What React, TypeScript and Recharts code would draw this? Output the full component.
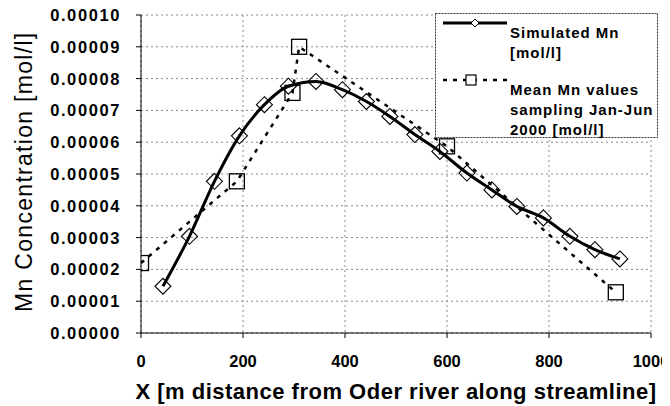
import React from 'react';
import { LineChart, Line, XAxis, YAxis, CartesianGrid, Label } from 'recharts';

// Simulated Mn concentration along streamline
const simX = [43, 95, 144, 193, 242, 289, 343, 395, 442, 488, 537, 586, 639, 688, 737, 789, 841, 890, 939];
const simY = [
  0.0000147, 0.0000304, 0.0000477, 0.000062, 0.0000718, 0.0000776, 0.0000791, 0.0000765, 0.0000728,
  0.0000681, 0.0000624, 0.0000571, 0.0000503, 0.000045, 0.0000398, 0.0000362, 0.0000304, 0.0000262, 0.0000233,
];

// Mean Mn values sampling Jan-Jun 2000
const meanX = [0, 188, 297, 310, 600, 931];
const meanY = [0.000022, 0.0000477, 0.0000755, 0.00009, 0.0000587, 0.0000128];

const xTicks = [0, 200, 400, 600, 800, 1000];
const yTicks = [0, 0.00001, 0.00002, 0.00003, 0.00004, 0.00005, 0.00006, 0.00007, 0.00008, 0.00009, 0.0001];

const xTitle = 'X [m distance from Oder river along streamline]';
const yTitle = 'Mn Concentration [mol/l]';
const legendSim = ['Simulated Mn', '[mol/l]'];
const legendMean = ['Mean Mn values', 'sampling Jan-Jun', '2000 [mol/l]'];

const simulated = simX.map((x, i) => ({ x, y: simY[i] }));
const measured = meanX.map((x, i) => ({ x, y: meanY[i] }));

const FONT = '"Liberation Sans", Arial, Helvetica, sans-serif';

const YTick = (props: any) => {
  const { x, y, payload } = props;
  return (
    <text x={x} y={y} dy={6} textAnchor="end" fontFamily={FONT} fontSize={16.5} fontWeight="bold" fill="#000" letterSpacing={1.6}>
      {Number(payload.value).toFixed(5)}
    </text>
  );
};

const XTick = (props: any) => {
  const { x, y, payload } = props;
  return (
    <text x={x} y={y} dy={12} textAnchor="middle" fontFamily={FONT} fontSize={16.5} fontWeight="bold" fill="#000">
      {String(payload.value)}
    </text>
  );
};

const Diamond = (props: any) => {
  const { cx, cy, index } = props;
  if (cx == null || cy == null) return <g key={`d${index}`} />;
  const r = 8;
  return (
    <path
      key={`d${index}`}
      d={`M${cx},${cy - r}L${cx + r},${cy}L${cx},${cy + r}L${cx - r},${cy}Z`}
      fill="none"
      stroke="#000"
      strokeWidth={1.1}
    />
  );
};

const Square = (props: any) => {
  const { cx, cy, index } = props;
  if (cx == null || cy == null) return <g key={`s${index}`} />;
  const r = 7.5;
  return <rect key={`s${index}`} x={cx - r} y={cy - r} width={2 * r} height={2 * r} fill="none" stroke="#000" strokeWidth={1.3} />;
};

const XTitle = () => (
  <text x={388} y={398.5} textAnchor="middle" fontFamily={FONT} fontSize={22} fontWeight="bold" fill="#000" letterSpacing={0.5}>
    {xTitle}
  </text>
);

const YTitle = () => (
  <text
    x={24}
    y={171.7}
    transform="rotate(-90 24 171.7)"
    textAnchor="middle"
    fontFamily={FONT}
    fontSize={23}
    fill="#000"
    letterSpacing={1.3}
  >
    {yTitle}
  </text>
);

const LegendBox = () => (
  <svg width={224} height={126} style={{ position: 'absolute', left: 427, top: 13 }}>
    <rect x={0.5} y={0.5} width={222} height={124} fill="#fff" stroke="#333" strokeWidth={1} strokeDasharray="2 1" />
    <line x1={8} y1={10} x2={72} y2={10} stroke="#000" strokeWidth={3} />
    <path d="M40,6L44,10L40,14L36,10Z" fill="#fff" stroke="#000" strokeWidth={1} />
    <line x1={8} y1={67} x2={72} y2={67} stroke="#000" strokeWidth={2.5} strokeDasharray="4 6" />
    <rect x={31} y={62} width={10} height={10} fill="#fff" stroke="#000" strokeWidth={1.2} />
    {legendSim.map((t, i) => (
      <text key={`ls${i}`} x={75} y={25 + i * 20} fontFamily={FONT} fontSize={15} fontWeight="bold" fill="#000" letterSpacing={1}>
        {t}
      </text>
    ))}
    {legendMean.map((t, i) => (
      <text key={`lm${i}`} x={75} y={82 + i * 20} fontFamily={FONT} fontSize={15} fontWeight="bold" fill="#000" letterSpacing={1}>
        {t}
      </text>
    ))}
  </svg>
);

export default function App() {
  return (
    <div style={{ position: 'relative', width: 662, height: 406, marginTop: -8 }}>
      <LineChart width={662} height={406} margin={{ top: 15, right: 19, left: 0, bottom: 0 }}>
        <CartesianGrid stroke="#8a8a8a" strokeDasharray="2 3" />
        <XAxis
          type="number"
          dataKey="x"
          domain={[0, 1000]}
          ticks={xTicks}
          interval={0}
          height={73}
          tickSize={5}
          tickMargin={17}
          tick={<XTick />}
          axisLine={{ stroke: '#000', strokeWidth: 1 }}
          tickLine={{ stroke: '#000' }}
          allowDataOverflow
        >
          <Label content={<XTitle />} />
        </XAxis>
        <YAxis
          type="number"
          domain={[0, 0.0001]}
          ticks={yTicks}
          interval={0}
          width={133}
          tickSize={5}
          tickMargin={15}
          tick={<YTick />}
          axisLine={{ stroke: '#000', strokeWidth: 1 }}
          tickLine={{ stroke: '#000' }}
          allowDataOverflow
        >
          <Label content={<YTitle />} />
        </YAxis>
        <Line
          data={measured}
          dataKey="y"
          type="linear"
          stroke="#000"
          strokeWidth={2.5}
          strokeDasharray="4 6"
          dot={<Square />}
          activeDot={false}
          isAnimationActive={false}
        />
        <Line
          data={simulated}
          dataKey="y"
          type="monotone"
          stroke="#000"
          strokeWidth={3}
          dot={<Diamond />}
          activeDot={false}
          isAnimationActive={false}
        />
      </LineChart>
      <LegendBox />
    </div>
  );
}
